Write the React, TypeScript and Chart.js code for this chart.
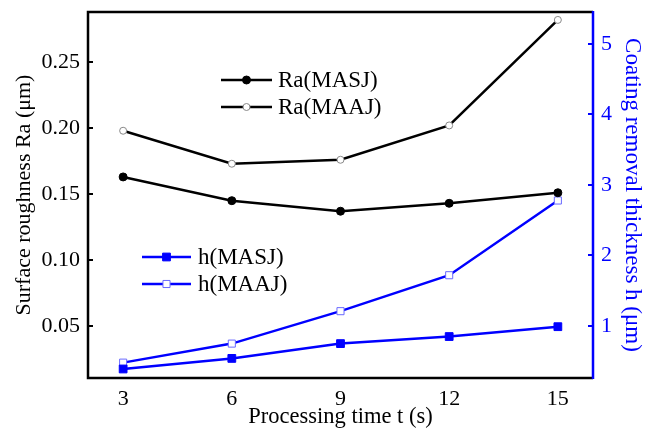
import React, { useEffect, useRef } from "react";
import { Chart, registerables } from "chart.js";

Chart.register(...registerables);

const times = [3, 6, 9, 12, 15];
const raMASJ = [0.163, 0.145, 0.137, 0.143, 0.151];
const raMAAJ = [0.198, 0.173, 0.176, 0.202, 0.282];
const hMASJ = [0.39, 0.54, 0.75, 0.85, 0.99];
const hMAAJ = [0.48, 0.75, 1.21, 1.72, 2.78];
const xTicks = [3, 6, 9, 12, 15];
const leftTicks = [0.05, 0.1, 0.15, 0.2, 0.25];
const rightTicks = [1, 2, 3, 4, 5];

const BLUE = "#0000ff";
const FONT = "'Liberation Serif', 'DejaVu Serif', serif";

function drawMarker(ctx: CanvasRenderingContext2D, style: string, x: number, y: number, r: number) {
  ctx.beginPath();
  if (style === "rect") {
    const s = Math.SQRT1_2 * r;
    ctx.rect(x - s, y - s, 2 * s, 2 * s);
  } else {
    ctx.arc(x, y, r, 0, Math.PI * 2);
  }
  ctx.fill();
  ctx.stroke();
}

const frameAndLegend = {
  id: "frameAndLegend",
  afterDraw(chart: any) {
    const { ctx, chartArea: a, scales } = chart;
    ctx.save();
    // inward ticks
    ctx.lineWidth = 2;
    ctx.strokeStyle = "#000";
    ctx.beginPath();
    for (const v of leftTicks) {
      const y = Math.round(scales.y.getPixelForValue(v));
      ctx.moveTo(a.left, y);
      ctx.lineTo(a.left + 5, y);
    }
    ctx.stroke();
    ctx.strokeStyle = BLUE;
    ctx.beginPath();
    for (const v of rightTicks) {
      const y = Math.round(scales.y1.getPixelForValue(v));
      ctx.moveTo(a.right, y);
      ctx.lineTo(a.right - 5, y);
    }
    ctx.stroke();
    // frame
    ctx.lineWidth = 2.5;
    ctx.strokeStyle = "#000";
    ctx.beginPath();
    ctx.moveTo(a.right, a.top);
    ctx.lineTo(a.left, a.top);
    ctx.lineTo(a.left, a.bottom);
    ctx.lineTo(a.right, a.bottom);
    ctx.stroke();
    ctx.strokeStyle = BLUE;
    ctx.beginPath();
    ctx.moveTo(a.right, a.top - 1);
    ctx.lineTo(a.right, a.bottom + 1);
    ctx.stroke();

    // legends
    const items = [
      { ds: 0, x1: 221, x2: 272, y: 80, tx: 278 },
      { ds: 1, x1: 221, x2: 272, y: 107, tx: 278 },
      { ds: 2, x1: 142, x2: 191, y: 257, tx: 198 },
      { ds: 3, x1: 142, x2: 191, y: 284, tx: 198 },
    ];
    ctx.font = `23px ${FONT}`;
    ctx.textBaseline = "middle";
    ctx.textAlign = "left";
    for (const it of items) {
      const d = chart.data.datasets[it.ds];
      ctx.strokeStyle = d.borderColor;
      ctx.lineWidth = d.borderWidth;
      ctx.beginPath();
      ctx.moveTo(it.x1, it.y);
      ctx.lineTo(it.x2, it.y);
      ctx.stroke();
      ctx.fillStyle = d.pointBackgroundColor;
      ctx.strokeStyle = d.pointBorderColor;
      ctx.lineWidth = d.pointBorderWidth;
      drawMarker(ctx, d.pointStyle, (it.x1 + it.x2) / 2, it.y, d.pointRadius);
      ctx.fillStyle = "#000";
      ctx.fillText(d.label, it.tx, it.y + 1);
    }
    ctx.restore();
  },
};

export default function App() {
  const ref = useRef<HTMLCanvasElement>(null);
  useEffect(() => {
    const canvas = ref.current!;
    const chart = new Chart(canvas, {
      type: "line",
      data: {
        labels: times,
        datasets: [
          {
            label: "Ra(MASJ)",
            data: times.map((t, i) => ({ x: t, y: raMASJ[i] })),
            yAxisID: "y",
            borderColor: "#000",
            borderWidth: 2.5,
            pointStyle: "circle",
            pointRadius: 4,
            pointBackgroundColor: "#000",
            pointBorderColor: "#000",
            pointBorderWidth: 1,
          },
          {
            label: "Ra(MAAJ)",
            data: times.map((t, i) => ({ x: t, y: raMAAJ[i] })),
            yAxisID: "y",
            borderColor: "#000",
            borderWidth: 2.5,
            pointStyle: "circle",
            pointRadius: 3.5,
            pointBackgroundColor: "#fff",
            pointBorderColor: "#888",
            pointBorderWidth: 1,
          },
          {
            label: "h(MASJ)",
            data: times.map((t, i) => ({ x: t, y: hMASJ[i] })),
            yAxisID: "y1",
            borderColor: BLUE,
            borderWidth: 2.5,
            pointStyle: "rect",
            pointRadius: 5.5,
            pointBackgroundColor: BLUE,
            pointBorderColor: BLUE,
            pointBorderWidth: 1,
          },
          {
            label: "h(MAAJ)",
            data: times.map((t, i) => ({ x: t, y: hMAAJ[i] })),
            yAxisID: "y1",
            borderColor: BLUE,
            borderWidth: 2.5,
            pointStyle: "rect",
            pointRadius: 5,
            pointBackgroundColor: "#fff",
            pointBorderColor: "#6a6aff",
            pointBorderWidth: 1,
          },
        ],
      },
      options: {
        animation: false,
        responsive: false,
        layout: { padding: { top: 12, left: 0, right: 0, bottom: 0 } },
        plugins: { legend: { display: false }, tooltip: { enabled: false } },
        scales: {
          x: {
            type: "linear",
            min: 2.03,
            max: 15.97,
            afterBuildTicks: (s: any) => {
              s.ticks = xTicks.map((v) => ({ value: v }));
            },
            afterFit: (s: any) => {
              s.height = 52;
              s.paddingLeft = 0;
              s.paddingRight = 0;
            },
            grid: { display: false, drawTicks: false },
            border: { display: false },
            ticks: { color: "#000", padding: 8, font: { family: FONT, size: 22 }, maxRotation: 0 },
            title: {
              display: true,
              text: "Processing time t (s)",
              color: "#000",
              font: { family: FONT, size: 22.5 },
              padding: { top: 0, bottom: -1 },
            },
          },
          y: {
            type: "linear",
            position: "left",
            min: 0.0106,
            max: 0.288,
            afterBuildTicks: (s: any) => {
              s.ticks = leftTicks.map((v) => ({ value: v }));
            },
            afterFit: (s: any) => {
              s.width = 88;
              s.paddingTop = 0;
              s.paddingBottom = 0;
            },
            grid: { display: false, drawTicks: false },
            border: { display: false },
            ticks: {
              color: "#000",
              padding: 8,
              font: { family: FONT, size: 22 },
              callback: (v: any) => Number(v).toFixed(2),
            },
            title: {
              display: true,
              text: "Surface roughness Ra (μm)",
              color: "#000",
              font: { family: FONT, size: 22 },
              padding: { top: 11, bottom: 0 },
            },
          },
          y1: {
            type: "linear",
            position: "right",
            min: 0.262,
            max: 5.454,
            afterBuildTicks: (s: any) => {
              s.ticks = rightTicks.map((v) => ({ value: v }));
            },
            afterFit: (s: any) => {
              s.width = 63;
              s.paddingTop = 0;
              s.paddingBottom = 0;
            },
            grid: { display: false, drawTicks: false },
            border: { display: false },
            ticks: { color: BLUE, padding: 8, font: { family: FONT, size: 22 } },
            title: {
              display: true,
              text: "Coating removal thickness h (μm)",
              color: BLUE,
              font: { family: FONT, size: 23 },
              padding: { top: 10, bottom: 0 },
            },
          },
        },
      },
      plugins: [frameAndLegend],
    } as any);
    return () => chart.destroy();
  }, []);
  return (
    <div style={{ position: "fixed", left: 0, top: 0, width: 656, height: 430, background: "#fff" }}>
      <canvas ref={ref} width={656} height={430} />
    </div>
  );
}
